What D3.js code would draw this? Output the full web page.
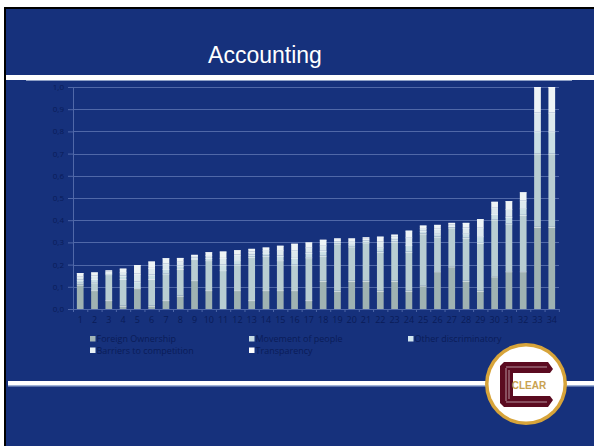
<!DOCTYPE html>
<html>
<head>
<meta charset="utf-8">
<script src="https://cdn.jsdelivr.net/npm/d3@7"></script>
<style>
  html, body { margin: 0; padding: 0; background: #ffffff; }
  svg { display: block; }
</style>
</head>
<body>
<svg id="slide" width="594" height="446"></svg>
<script>
// Country index 1..34
const categories = d3.range(1, 35).map(String);

// Restrictiveness components per country (stacked bottom to top)
const foreignOwnership = [0.110, 0.085, 0.040, 0.015, 0.094, 0.015, 0.040, 0.060, 0.130, 0.085,
  0.000, 0.085, 0.040, 0.085, 0.085, 0.085, 0.040, 0.127, 0.082, 0.127,
  0.127, 0.082, 0.127, 0.082, 0.106, 0.170, 0.192, 0.127, 0.082, 0.147,
  0.170, 0.170, 0.370, 0.370];
const movementOfPeople = [0.010, 0.035, 0.117, 0.120, 0.000, 0.120, 0.120, 0.120, 0.095, 0.135,
  0.175, 0.115, 0.195, 0.155, 0.135, 0.115, 0.193, 0.113, 0.213, 0.155,
  0.173, 0.176, 0.176, 0.176, 0.234, 0.156, 0.175, 0.194, 0.216, 0.256,
  0.215, 0.254, 0.330, 0.330];
const otherDiscriminatory = [0.012, 0.015, 0.005, 0.015, 0.030, 0.020, 0.020, 0.015, 0.006, 0.010,
  0.025, 0.020, 0.010, 0.012, 0.020, 0.030, 0.020, 0.022, 0.008, 0.010,
  0.008, 0.020, 0.010, 0.030, 0.012, 0.015, 0.007, 0.020, 0.030, 0.025,
  0.030, 0.030, 0.100, 0.100];
const barriersToCompetition = [0.015, 0.015, 0.006, 0.016, 0.035, 0.030, 0.025, 0.020, 0.007, 0.013,
  0.030, 0.025, 0.013, 0.013, 0.025, 0.034, 0.025, 0.025, 0.008, 0.013,
  0.008, 0.025, 0.012, 0.035, 0.012, 0.020, 0.007, 0.025, 0.040, 0.030,
  0.035, 0.035, 0.085, 0.085];
const transparency = [0.015, 0.015, 0.006, 0.016, 0.039, 0.029, 0.024, 0.015, 0.006, 0.013,
  0.029, 0.020, 0.013, 0.012, 0.020, 0.030, 0.022, 0.025, 0.007, 0.013,
  0.007, 0.023, 0.010, 0.030, 0.012, 0.018, 0.007, 0.022, 0.037, 0.025,
  0.036, 0.037, 0.115, 0.115];

const seriesNames = ["Foreign Ownership", "Movement of people", "Other discriminatory",
  "Barriers to competition", "Transparency"];
const yTicks = [0, 0.1, 0.2, 0.3, 0.4, 0.5, 0.6, 0.7, 0.8, 0.9, 1.0];

const seriesColors = ["#9fb2b2", "#b8cdd2", "#cadfe5", "#dde9ee", "#eef4f6"];
const legendColors = ["#a2b4b6", "#c6dbe4", "#d2e6f0", "#e8f1f5", "#ffffff"];

const blue = "#16317c";
const inkDark = "#0a1c58";
const uiFont = "Open Sans, DejaVu Sans, sans-serif";

const svg = d3.select("#slide");

// Slide frame
svg.append("rect").attr("x", 4).attr("y", 7).attr("width", 590).attr("height", 439).attr("fill", "#000");
svg.append("rect").attr("x", 6).attr("y", 9).attr("width", 588).attr("height", 437).attr("fill", blue);

// Title
svg.append("text")
  .attr("x", 265).attr("y", 63)
  .attr("text-anchor", "middle")
  .attr("font-family", "Liberation Sans, Arial, sans-serif")
  .attr("font-size", 23)
  .attr("fill", "#ffffff")
  .text("Accounting");

// Title rule
svg.append("rect").attr("x", 6).attr("y", 75).attr("width", 588).attr("height", 5).attr("fill", "#ffffff");
svg.append("line").attr("x1", 26).attr("x2", 572).attr("y1", 80.5).attr("y2", 80.5)
  .attr("stroke", "#8fa0c6").attr("stroke-width", 1);

// Chart
const plot = { left: 73, right: 559, top: 87, bottom: 309 };

const x = d3.scaleBand().domain(categories).range([plot.left, plot.right]).paddingInner(0.53).paddingOuter(0.27);
const y = d3.scaleLinear().domain([0, 1]).range([plot.bottom, plot.top]);

const rows = categories.map((c, i) => ({
  cat: c,
  s0: foreignOwnership[i], s1: movementOfPeople[i], s2: otherDiscriminatory[i],
  s3: barriersToCompetition[i], s4: transparency[i]
}));
const stacked = d3.stack().keys(["s0", "s1", "s2", "s3", "s4"])(rows);

const g = svg.append("g");

// Gridlines
g.append("g").selectAll("line").data(yTicks.slice(1)).join("line")
  .attr("x1", plot.left).attr("x2", plot.right)
  .attr("y1", d => Math.round(y(d)) + 0.5).attr("y2", d => Math.round(y(d)) + 0.5)
  .attr("stroke", "#5068a8").attr("stroke-width", 1);

// Y axis
const yAxis = g.append("g").attr("transform", `translate(${plot.left},0)`)
  .call(d3.axisLeft(y).tickValues(yTicks).tickSize(5).tickPadding(4)
    .tickFormat(d => d3.format(".1f")(d).replace(".", ",")));
yAxis.select(".domain").attr("stroke", "#5068a8");
yAxis.selectAll(".tick line").attr("stroke", "#5068a8");
yAxis.selectAll(".tick text").attr("fill", inkDark)
  .attr("font-family", uiFont).attr("font-size", 8);

// X axis
const xAxis = g.append("g").attr("transform", `translate(0,${plot.bottom})`)
  .call(d3.axisBottom(x).tickSize(0).tickPadding(8));
xAxis.select(".domain").attr("stroke", "#5068a8");
xAxis.selectAll(".tick text").attr("fill", inkDark)
  .attr("font-family", uiFont).attr("font-size", 9);
// Category boundary ticks
g.append("g").selectAll("line").data(d3.range(categories.length + 1)).join("line")
  .attr("x1", i => plot.left + i * x.step() + 0.5).attr("x2", i => plot.left + i * x.step() + 0.5)
  .attr("y1", plot.bottom).attr("y2", plot.bottom + 3)
  .attr("stroke", "#5068a8");

// Stacked bars
stacked.forEach((layer, li) => {
  g.append("g").selectAll("rect").data(layer).join("rect")
    .attr("x", d => x(d.data.cat))
    .attr("width", x.bandwidth())
    .attr("y", d => y(d[1]))
    .attr("height", d => Math.max(0, y(d[0]) - y(d[1])))
    .attr("fill", seriesColors[li]);
  // thin light seam at the top of each segment
  g.append("g").selectAll("line").data(layer.filter(d => d[1] - d[0] > 0.001)).join("line")
    .attr("x1", d => x(d.data.cat)).attr("x2", d => x(d.data.cat) + x.bandwidth())
    .attr("y1", d => y(d[1]) + 0.5).attr("y2", d => y(d[1]) + 0.5)
    .attr("stroke", "#f4f8fa").attr("stroke-width", 1).attr("opacity", 0.7);
});

// Legend
const legendPos = [[90, 339], [249, 339], [408, 339], [90, 350.5], [249, 350.5]];
const legend = svg.append("g").selectAll("g").data(seriesNames).join("g")
  .attr("transform", (d, i) => `translate(${legendPos[i][0]},${legendPos[i][1]})`);
legend.append("rect").attr("x", 0).attr("y", -3).attr("width", 5.5).attr("height", 5.5)
  .attr("fill", (d, i) => legendColors[i]);
legend.append("text").attr("x", 6.5).attr("y", 3.2)
  .attr("font-family", uiFont).attr("font-size", 9)
  .attr("fill", inkDark).text(d => d);

// Footer rule
svg.append("rect").attr("x", 8).attr("y", 381).attr("width", 586).attr("height", 4).attr("fill", "#ffffff");
svg.append("rect").attr("x", 8).attr("y", 385).attr("width", 586).attr("height", 1.5).attr("fill", "#9fb2d6");

// CLEAR badge
const badge = svg.append("g").attr("transform", "translate(526,384)");
badge.append("circle").attr("r", 41).attr("fill", "#d7a43a");
badge.append("circle").attr("r", 37.5).attr("fill", "#ffffff");
badge.append("path")
  .attr("d", "M-22,-22 L22,-22 L27,-15 L24,-11 L-13,-11 L-13,12 L24,12 L27,16 L22,23 L-22,23 L-26,19 L-26,-18 Z")
  .attr("fill", "#5b0b20");
badge.append("path")
  .attr("d", "M-20,-17 L21,-17 M-20,18 L21,18 M-20,-16 L-20,17 M-17,-14 L-17,15")
  .attr("stroke", "#ffffff").attr("stroke-width", 0.8).attr("fill", "none").attr("opacity", 0.7);
badge.append("text").attr("x", 3).attr("y", 4.5).attr("text-anchor", "middle")
  .attr("font-family", "Liberation Sans, Arial, sans-serif").attr("font-weight", "bold")
  .attr("font-size", 10).attr("fill", "#c9a250").text("CLEAR");
</script>
</body>
</html>
